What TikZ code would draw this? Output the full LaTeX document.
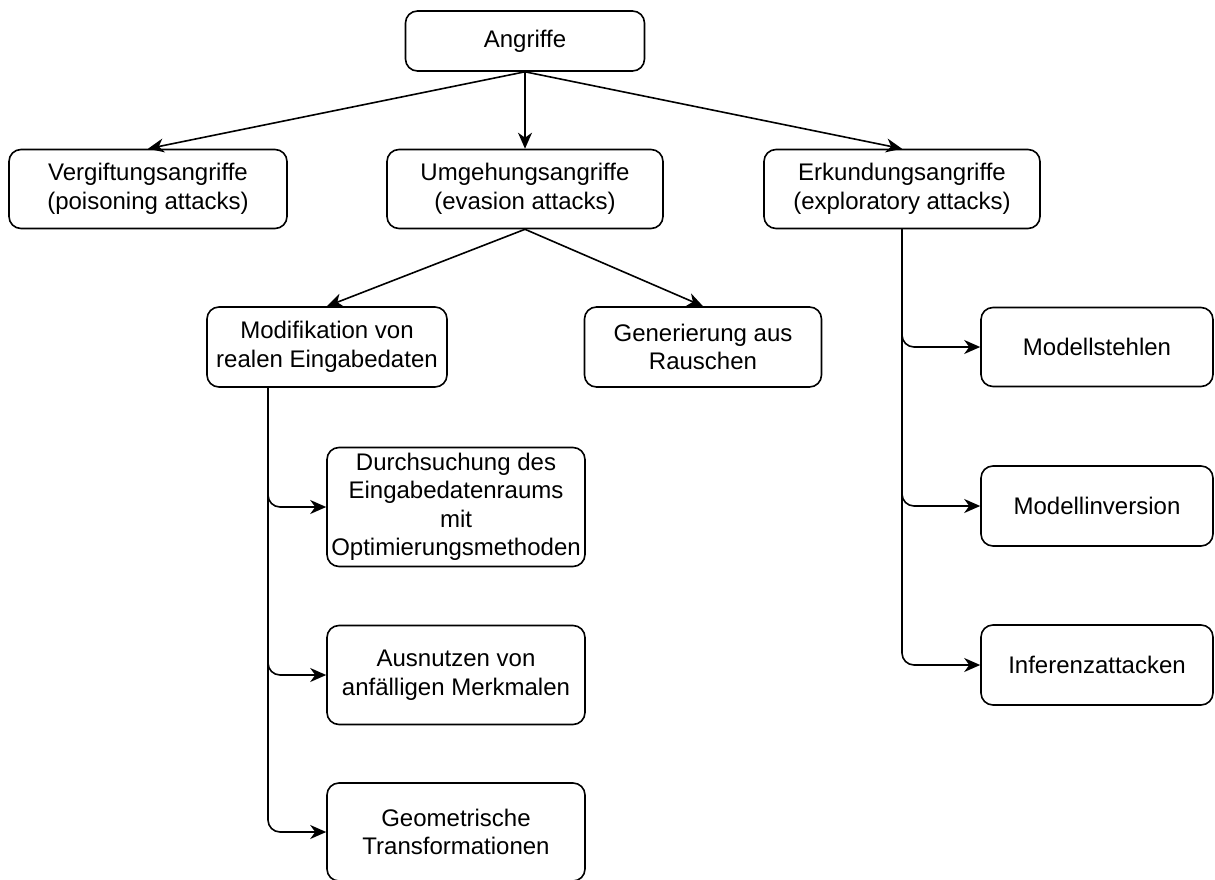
\documentclass[tikz,border=0pt]{standalone}
\usepackage{fontspec}
\setmainfont{Liberation Sans}
\usetikzlibrary{arrows.meta}
\tikzset{
box/.style={ % Rounded box for each kind of attack
draw, line width=1.6pt,
rounded corners=12pt,
align=center, inner sep=0pt,
font=\fontsize{24}{28.5}\selectfont},
link/.style={ % Straight connector with filled arrow head
draw, line width=1.6pt,
-{Stealth[length=16pt,width=14pt,inset=5pt]}},
branch/.style={ % Elbow connector from a trunk line
link, rounded corners=12pt}}

\begin{document}
\begin{tikzpicture}[x=1pt, y=-1pt]
\useasboundingbox (0,0) rectangle (1215,880);
% top level
\node[box, minimum width=239pt, minimum height=60pt] (angriffe) at (525,41) {Angriffe};
\node[box, minimum width=278pt, minimum height=79pt] (vergift) at (148,189) {Vergiftungsangriffe\\(poisoning attacks)};
\node[box, minimum width=276pt, minimum height=79pt] (umgeh) at (525,189) {Umgehungsangriffe\\(evasion attacks)};
\node[box, minimum width=276pt, minimum height=79pt] (erkund) at (902,189) {Erkundungsangriffe\\(exploratory attacks)};
% evasion attacks
\node[box, minimum width=240pt, minimum height=80pt] (modif) at (327,347) {Modifikation von\\realen Eingabedaten};
\node[box, minimum width=237pt, minimum height=80pt] (gener) at (703,347) {Generierung aus\\Rauschen};
\node[box, minimum width=258pt, minimum height=119pt] (durch) at (456,507) {Durchsuchung des\\Eingabedatenraums\\mit\\Optimierungsmethoden};
\node[box, minimum width=258pt, minimum height=99pt] (ausn) at (456,675) {Ausnutzen von\\anfälligen Merkmalen};
\node[box, minimum width=258pt, minimum height=98pt] (geom) at (456,832) {Geometrische\\Transformationen};
% exploratory attacks
\node[box, minimum width=232pt, minimum height=79pt] (mstehl) at (1097,347) {Modellstehlen};
\node[box, minimum width=232pt, minimum height=80pt] (minv) at (1097,506) {Modellinversion};
\node[box, minimum width=232pt, minimum height=80pt] (infer) at (1097,665) {Inferenzattacken};

\draw[link] (angriffe.south) -- (vergift.north);
\draw[link] (angriffe.south) -- (umgeh.north);
\draw[link] (angriffe.south) -- (erkund.north);
\draw[link] (umgeh.south) -- (modif.north);
\draw[link] (umgeh.south) -- (gener.north);
\foreach \leaf in {durch, ausn, geom}
  \draw[branch] ([xshift=-59pt]modif.south) |- (\leaf);
\foreach \leaf in {mstehl, minv, infer}
  \draw[branch] (erkund.south) |- (\leaf);
\end{tikzpicture}
\end{document}
